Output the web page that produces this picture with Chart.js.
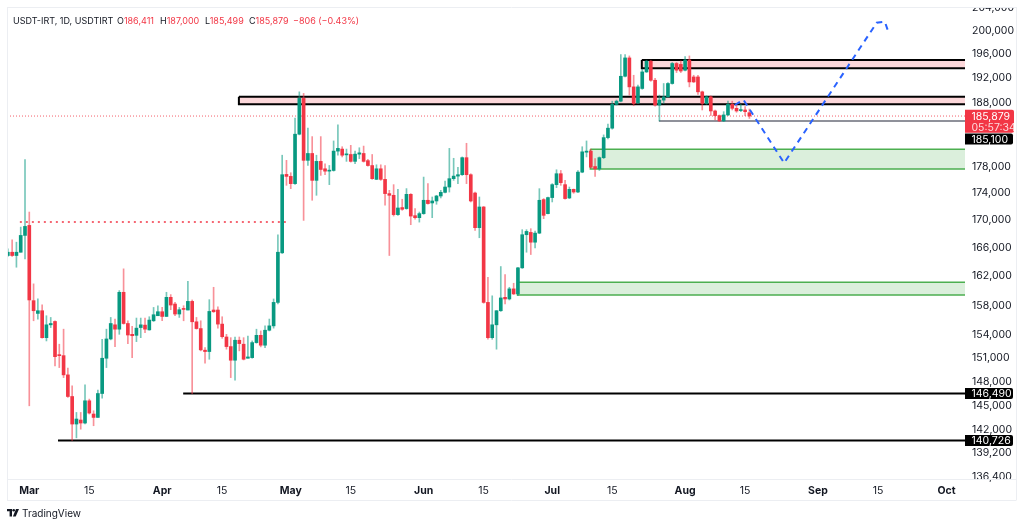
<!DOCTYPE html>
<html><head><meta charset="utf-8">
<script src="https://cdn.jsdelivr.net/npm/chart.js@4.4.1/dist/chart.umd.min.js"></script>
<style>
html,body{margin:0;padding:0;background:#fff;}
#wrap{position:relative;width:1024px;height:526px;overflow:hidden;font-family:Inter,"Noto Sans",sans-serif;}
#c{position:absolute;left:0;top:0;}
.hd{position:absolute;top:14px;font-size:9px;line-height:13px;color:#131722;white-space:nowrap;}
.r{color:#F23645;}
#logo{position:absolute;left:7px;top:507px;display:flex;align-items:center;gap:3px;font-size:10px;color:#131722;}
</style></head>
<body><div id="wrap"><canvas id="c" width="1024" height="526"></canvas>
<div class="hd" style="left:13px">USDT-IRT, 1D, USDTIRT</div>
<div class="hd" style="left:117px">O<span class="r">186,411</span></div>
<div class="hd" style="left:160px">H<span class="r">187,000</span></div>
<div class="hd" style="left:205px">L<span class="r">185,499</span></div>
<div class="hd" style="left:249px">C<span class="r">185,879</span></div>
<div class="hd r" style="left:293px">−806 (−0.43%)</div>
<div id="logo"><svg width="12" height="8" viewBox="0 0 12 8"><path d="M0 0H5V7.5H2.6V2.3H0Z" fill="#131722"/><circle cx="6.7" cy="1.3" r="1.3" fill="#131722"/><path d="M9 0H12L8.7 7.5H5.9Z" fill="#131722"/></svg><span>TradingView</span></div>
</div>
<script>
// ---- data ----
const firstDay = -5; // first candle = Feb 24 (day 0 = Mar 1)
const opens = [
164914,165380,164914,165380,167782,169231,158649,156920,157284,153688,
155395,155840,151429,151338,148861,146125,142713,143205,142836,145587,
143943,143525,146500,151000,153519,155395,154814,159792,155570,154135,
154000,155030,155355,154720,155935,156610,157150,156515,159100,158191,
156840,157595,157380,158550,155800,154895,152050,151870,157380,157380,
155490,153780,152518,150744,153350,152830,151000,151080,153040,154000,
152700,154675,155255,158412,165295,176800,176500,175405,183007,188711,
178947,180005,175900,178789,177655,177295,177400,180370,180685,179790,
179850,178790,179900,180005,178900,178150,176050,177655,176050,173911,
173660,170803,171840,171690,173808,170650,170355,170950,172920,172520,
172816,173556,174100,174895,176155,176545,176755,179357,176755,174000,
168898,171928,158412,153688,155395,157285,159100,158880,160260,159570,
163180,167883,168215,166810,168115,173020,170950,173320,175255,176905,
175255,173260,174550,174150,177145,180200,180370,178000,177655,179357,
182470,183955,187747,188270,192333,195383,190590,188000,190330,193050,
194833,191676,187640,188437,188972,191141,194450,194300,193333,195033,
192220,192220,189780,187905,188970,186689,185946,185109,186054,187747,
187115,186750,186850,186411];
const highs = [
165859,167158,166812,168985,179050,171184,160951,158883,158097,156610,
156380,155935,152830,154814,149719,147462,144139,144139,147587,145800,
144348,146925,153480,154814,156380,156164,160027,163039,155935,155200,
156300,156300,156300,156475,157730,157960,157730,159792,159475,158412,
157730,157960,161310,158743,156380,155935,152390,158785,160480,157825,
156475,154135,153690,153780,153780,153690,153910,153260,154810,154580,
155255,156165,158880,167883,179737,178947,177055,185535,189780,189521,
183955,182628,179737,182628,178420,178160,181950,184477,181050,180685,
181263,180370,180890,181150,179105,179848,178265,178265,178150,174405,
175255,174555,173070,174660,173911,171690,171184,176395,175405,173408,
173660,174400,175795,180795,179263,177895,179470,181585,176900,174150,
173408,172000,161862,159310,157300,163363,162240,160480,161035,163265,
168608,168608,168753,168405,174650,173170,173400,175405,177505,177400,
175900,174895,174600,177400,181048,181950,180685,179215,179470,182897,
184587,188270,188450,195950,195950,195717,192500,190870,193500,195000,
195000,192000,189250,191141,191300,194620,194620,194900,195600,195717,
192500,192500,189900,189130,189130,186850,186050,186580,188270,188270,
187640,187747,187380,187000];
const lows = [
164773,164773,163265,165380,164449,144963,155935,156164,153610,153259,
155030,150014,149796,148512,146000,140726,141029,142086,142713,143943,
142504,143525,145925,149796,153400,152518,154135,155480,152908,151078,
153170,153690,154355,154680,155840,156610,155935,156515,157420,156610,
156380,155935,157380,146490,154815,151960,150360,150870,157055,154950,
153610,152180,148512,148180,151960,150780,151000,151000,152960,152480,
152390,154580,154950,158190,165200,175150,174655,175300,182900,169957,
178150,172920,173660,176650,176755,175255,177295,179737,179470,178790,
178678,178426,179215,178678,178050,176050,176000,175900,172180,164914,
170595,170700,171440,171588,169333,170148,169710,170844,172328,170355,
172328,173260,174000,174145,175900,175405,176650,175405,172670,168505,
167448,158300,153480,153480,152180,157190,158190,158745,159475,159337,
163100,165380,165055,166000,168030,170210,170900,172670,174805,175150,
173070,173171,173960,174050,177055,179470,177745,176500,177400,179215,
182265,183800,187650,188160,192220,189250,187530,187850,190200,192950,
191510,187480,185100,187900,188900,191030,192950,192950,193200,190590,
191300,189360,186850,187750,185946,185270,185000,185000,185946,186850,
186480,186580,185946,185499];
const closes = [
165380,164914,165380,167782,169086,158745,157284,157284,153688,155395,
155570,151208,151338,148861,146125,142713,143328,142836,145587,144066,
143525,146500,151000,153519,155570,154814,159792,155570,154040,153948,
154950,155395,154814,156029,156745,157150,156515,159102,158055,156840,
157420,157460,158550,155800,154895,152090,151870,157190,157150,155490,
153820,152518,150744,153350,152910,150872,151170,153040,154000,152700,
154675,155255,158412,165380,176755,176500,175405,183007,188711,178947,
180005,175900,178789,177550,177295,177400,180370,180795,179737,179900,
178790,179900,180100,178790,178150,176155,177655,176050,173911,173660,
170803,171780,171588,173808,170592,170355,170950,172920,172431,172816,
173556,174100,174895,176155,176545,176755,179357,176755,172816,168898,
171928,158412,153688,155395,157285,159020,158880,160260,159570,163180,
167883,168360,166810,168115,172920,170700,173320,175255,176905,175555,
173171,174550,174150,177145,180258,180370,177895,177655,179357,182470,
183955,187747,188270,192333,195383,190590,187900,190590,193050,194833,
191676,187640,188437,188972,191141,194450,193333,193200,195033,191400,
191400,189780,187905,188970,186689,185946,185109,186054,187747,187115,
186689,186850,186580,185879];

const xTickDays   = [0,14,31,45,61,75,92,106,122,136,153,167,184,198,214];
const xTickLabels = ['Mar','15','Apr','15','May','15','Jun','15','Jul','15','Aug','15','Sep','15','Oct'];
const yTickValues = [204000,200000,196000,192000,188000,178000,174000,170000,166000,162000,158000,154000,151000,148000,145000,142000,139200,136400];

// drawings: [startDay, top, bottom]
const pinkZones  = [[142.9,195030,193650],[48.9,188990,187760]];
const greenZones = [[130.9,180650,177620],[113.9,161160,159420]];
// [startDay, price]
const supportLines = [[35.9,146490],[6.7,140726]];
const greyLevel = [146.9,185100];
// [startDay, endDay, price]
const dottedLevel = [-2.2,59.9,169724];
const lastPrice = 185879;
const lastTime = '05:57:34';
const projDays   = [164.6,166.6,176.1,197.7,199.6,200.4];
const projValues = [187650,188500,178540,201380,201550,199830];

// ---- chart ----
const X_MIN = -5.2, X_MAX = 218.3, Y_MIN = 136022, Y_MAX = 204110, EDGE = 224;
const UP = '#089981', DN = '#F23645';
const UPW = 'rgba(8,153,129,0.55)', DNW = 'rgba(242,54,69,0.55)';
const isUp = i => closes[i] >= opens[i];
const days = opens.map((_, i) => firstDay + i);
const fmt = v => Math.round(v).toLocaleString('en-US');

function rectData(x0, top, bottom) {
  return [{x:x0,y:top},{x:EDGE,y:top},{x:EDGE,y:bottom},{x:x0,y:bottom},{x:x0,y:top}];
}
const base = {type:'line', pointRadius:0, tension:0, fill:false};
const datasets = [];
pinkZones.forEach(z => datasets.push({...base, data:rectData(z[0],z[1],z[2]), fill:'shape',
  backgroundColor:'rgba(242,54,69,0.2)', borderColor:'#000', borderWidth:2, order:10}));
greenZones.forEach(z => datasets.push({...base, data:rectData(z[0],z[1],z[2]), fill:'shape',
  backgroundColor:'rgba(76,175,80,0.2)', borderColor:'#4CAF50', borderWidth:1.5, order:10}));
supportLines.forEach(l => datasets.push({...base, data:[{x:l[0],y:l[1]},{x:EDGE,y:l[1]}],
  borderColor:'#000', borderWidth:2, order:6}));
datasets.push({...base, data:[{x:greyLevel[0],y:greyLevel[1]},{x:EDGE,y:greyLevel[1]}],
  borderColor:'#6a6d78', borderWidth:1.5, order:6});
datasets.push({...base, data:[{x:dottedLevel[0],y:dottedLevel[2]},{x:dottedLevel[1],y:dottedLevel[2]}],
  borderColor:DN, borderWidth:1.5, borderDash:[2,4], order:6});
datasets.push({...base, data:[{x:X_MIN,y:lastPrice},{x:X_MAX,y:lastPrice}],
  borderColor:'rgba(242,54,69,0.8)', borderWidth:1, borderDash:[1,2], order:7});
datasets.push({type:'bar', grouped:false, barThickness:1, order:3,
  data: days.map((d,i) => ({x:d, y:[lows[i], highs[i]]})),
  backgroundColor: days.map((d,i) => isUp(i) ? UPW : DNW)});
datasets.push({type:'bar', grouped:false, barThickness:3, minBarLength:1, order:2,
  data: days.map((d,i) => ({x:d, y:[opens[i], closes[i]]})),
  backgroundColor: days.map((d,i) => isUp(i) ? UP : DN)});
datasets.push({...base, data: projDays.map((d,i) => ({x:d, y:projValues[i]})),
  borderColor:'#2962FF', borderWidth:2, borderDash:[6,5], order:0});

const framePlugin = {
  id:'frame',
  beforeDraw(chart) {
    const c = chart.ctx;
    c.save();
    c.fillStyle = '#fff'; c.fillRect(0,0,chart.width,chart.height);
    c.restore();
  },
  afterDraw(chart) {
    const c = chart.ctx;
    c.save();
    c.fillStyle = '#fff'; c.fillRect(chart.chartArea.right, 0, 60, 7);
    c.strokeStyle = '#eceef2'; c.lineWidth = 1;
    c.beginPath();
    c.moveTo(7.5,7); c.lineTo(7.5,500.5);
    c.moveTo(7,7.5); c.lineTo(1016,7.5);
    c.moveTo(7,479.5); c.lineTo(1016,479.5);
    c.moveTo(7,500.5); c.lineTo(1016,500.5);
    c.moveTo(1016.5,7); c.lineTo(1016.5,500.5);
    c.stroke();
    c.restore();
  }
};
function box(c, x, yc, h, w, bg) {
  c.fillStyle = bg;
  c.beginPath();
  if (c.roundRect) c.roundRect(x, yc - h/2, w, h, [0,2,2,0]); else c.rect(x, yc - h/2, w, h);
  c.fill();
}
const labelPlugin = {
  id:'labels',
  afterDraw(chart) {
    const c = chart.ctx, ys = chart.scales.y, x0 = chart.chartArea.right;
    c.save();
    c.font = '10.5px Inter, "Noto Sans", sans-serif';
    c.textBaseline = 'middle'; c.textAlign = 'left';
    const py = ys.getPixelForValue(lastPrice);
    box(c, x0, py + 5.3, 23, 49, DN);
    c.fillStyle = '#fff'; c.fillText(fmt(lastPrice), x0 + 6.5, py + 0.5);
    c.fillStyle = 'rgba(255,255,255,0.82)'; c.fillText(lastTime, x0 + 6.5, py + 11.5);
    const items = [[greyLevel[1], py + 23], [supportLines[0][1], ys.getPixelForValue(supportLines[0][1])],
                   [supportLines[1][1], ys.getPixelForValue(supportLines[1][1])]];
    items.forEach(b => {
      box(c, x0, b[1], 11, 48, '#000');
      c.fillStyle = '#fff'; c.fillText(fmt(b[0]), x0 + 6.5, b[1] + 0.5);
    });
    c.restore();
  }
};

Chart.defaults.font.family = 'Inter, "Noto Sans", sans-serif';
new Chart(document.getElementById('c'), {
  type:'line',
  data:{datasets},
  options:{
    responsive:false, animation:false, events:[],
    layout:{padding:{left:7, top:7, right:8, bottom:26}},
    plugins:{legend:{display:false}, tooltip:{enabled:false}},
    scales:{
      x:{type:'linear', min:X_MIN, max:X_MAX, offset:false,
        grid:{display:false, drawTicks:false}, border:{display:false},
        afterBuildTicks: s => { s.ticks = xTickDays.map(v => ({value:v})); },
        afterFit: s => { s.height = 20; s.paddingLeft = 0; s.paddingRight = 0; },
        ticks:{autoSkip:false, maxRotation:0, padding:5, color:'#131722',
          font: ctx => ({size:10.5, weight: (ctx.tick && xTickDays.indexOf(ctx.tick.value) % 2 === 0) ? 'bold' : 'normal'}),
          callback: v => xTickLabels[xTickDays.indexOf(v)]}},
      y:{type:'logarithmic', position:'right', min:Y_MIN, max:Y_MAX,
        grid:{display:false, drawTicks:false}, border:{display:false},
        afterBuildTicks: s => { s.ticks = yTickValues.map(v => ({value:v})); },
        afterFit: s => { s.width = 51; s.paddingTop = 0; s.paddingBottom = 0; },
        ticks:{autoSkip:false, padding:7, color:'#131722', font:{size:10.5},
          callback: v => fmt(v)}}
    }
  },
  plugins:[framePlugin, labelPlugin]
});
</script>
</body></html>
